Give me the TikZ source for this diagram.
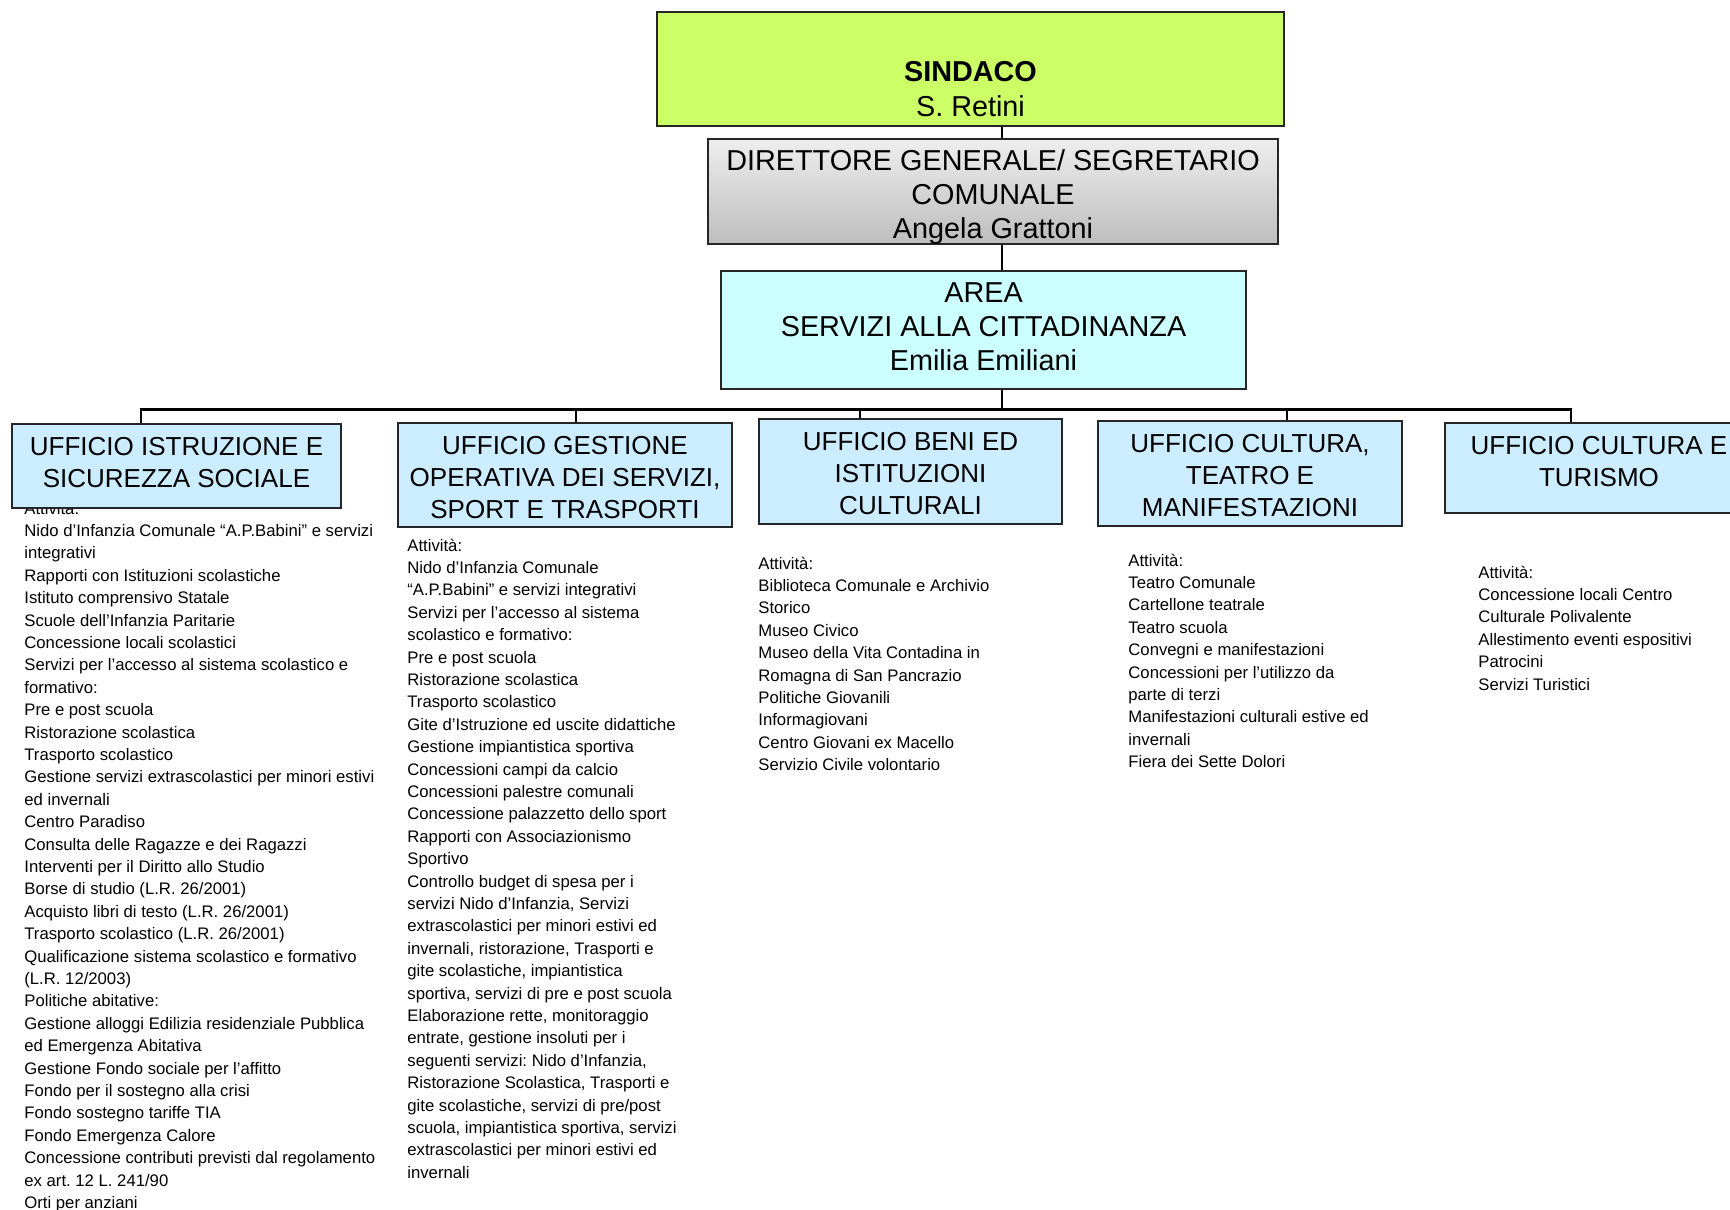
\documentclass[tikz,border=0pt]{standalone}
\usepackage{fontspec}
\setmainfont{Liberation Sans}
\frenchspacing
\definecolor{sindacofill}{HTML}{CCFF66}
\definecolor{areafill}{HTML}{CCFFFF}
\definecolor{officefill}{HTML}{CCECFF}
\definecolor{dirtop}{HTML}{EEEEEE}
\definecolor{dirbot}{HTML}{BDBDBD}
\newcommand{\acttext}{\fontsize{8.35}{11.2}\selectfont}
\newcommand{\offtext}{\fontsize{13}{16}\selectfont}
\newcommand{\toptext}{\fontsize{14.4}{17}\selectfont}
\begin{document}
\begin{tikzpicture}[x=0.5pt,y=-0.5pt,
  boxframe/.style={draw=black!85, line width=1pt, inner sep=0pt},
  office/.style={boxframe, fill=officefill},
  titletext/.style={anchor=base, inner sep=0pt},
  acttextnode/.style={anchor=base west, inner sep=0pt},
  trunkline/.style={draw=black, line width=0.8pt},
  busline/.style={draw=black, line width=1.3pt},
  dropline/.style={draw=black, line width=0.9pt}]
\useasboundingbox (0,0) rectangle (1730,1210);
\clip (0,0) rectangle (1730,1210);

% activity lists (drawn first: box 1 overlaps the top of its list)
\node[acttextnode] (act1) at (24,514) {\acttext\begin{tabular}[t]{@{}l@{}}
Attività:\\
Nido d’Infanzia Comunale “A.P.Babini” e servizi\\
integrativi\\
Rapporti con Istituzioni scolastiche\\
Istituto comprensivo Statale\\
Scuole dell’Infanzia Paritarie\\
Concessione locali scolastici\\
Servizi per l’accesso al sistema scolastico e\\
formativo:\\
Pre e post scuola\\
Ristorazione scolastica\\
Trasporto scolastico\\
Gestione servizi extrascolastici per minori estivi\\
ed invernali\\
Centro Paradiso\\
Consulta delle Ragazze e dei Ragazzi\\
Interventi per il Diritto allo Studio\\
Borse di studio (L.R. 26/2001)\\
Acquisto libri di testo (L.R. 26/2001)\\
Trasporto scolastico (L.R. 26/2001)\\
Qualificazione sistema scolastico e formativo\\
(L.R. 12/2003)\\
Politiche abitative:\\
Gestione alloggi Edilizia residenziale Pubblica\\
ed Emergenza Abitativa\\
Gestione Fondo sociale per l’affitto\\
Fondo per il sostegno alla crisi\\
Fondo sostegno tariffe TIA\\
Fondo Emergenza Calore\\
Concessione contributi previsti dal regolamento\\
ex art. 12 L. 241/90\\
Orti per anziani
\end{tabular}};

\node[acttextnode] (act2) at (407,551) {\acttext\begin{tabular}[t]{@{}l@{}}
Attività:\\
Nido d’Infanzia Comunale\\
“A.P.Babini” e servizi integrativi\\
Servizi per l’accesso al sistema\\
scolastico e formativo:\\
Pre e post scuola\\
Ristorazione scolastica\\
Trasporto scolastico\\
Gite d’Istruzione ed uscite didattiche\\
Gestione impiantistica sportiva\\
Concessioni campi da calcio\\
Concessioni palestre comunali\\
Concessione palazzetto dello sport\\
Rapporti con Associazionismo\\
Sportivo\\
Controllo budget di spesa per i\\
servizi Nido d’Infanzia, Servizi\\
extrascolastici per minori estivi ed\\
invernali, ristorazione, Trasporti e\\
gite scolastiche, impiantistica\\
sportiva, servizi di pre e post scuola\\
Elaborazione rette, monitoraggio\\
entrate, gestione insoluti per i\\
seguenti servizi: Nido d’Infanzia,\\
Ristorazione Scolastica, Trasporti e\\
gite scolastiche, servizi di pre/post\\
scuola, impiantistica sportiva, servizi\\
extrascolastici per minori estivi ed\\
invernali
\end{tabular}};

\node[acttextnode] (act3) at (758,569) {\acttext\begin{tabular}[t]{@{}l@{}}
Attività:\\
Biblioteca Comunale e Archivio\\
Storico\\
Museo Civico\\
Museo della Vita Contadina in\\
Romagna di San Pancrazio\\
Politiche Giovanili\\
Informagiovani\\
Centro Giovani ex Macello\\
Servizio Civile volontario
\end{tabular}};

\node[acttextnode] (act4) at (1128,566) {\acttext\begin{tabular}[t]{@{}l@{}}
Attività:\\
Teatro Comunale\\
Cartellone teatrale\\
Teatro scuola\\
Convegni e manifestazioni\\
Concessioni per l’utilizzo da\\
parte di terzi\\
Manifestazioni culturali estive ed\\
invernali\\
Fiera dei Sette Dolori
\end{tabular}};

\node[acttextnode] (act5) at (1478,578) {\acttext\begin{tabular}[t]{@{}l@{}}
Attività:\\
Concessione locali Centro\\
Culturale Polivalente\\
Allestimento eventi espositivi\\
Patrocini\\
Servizi Turistici
\end{tabular}};

% top boxes
\node[boxframe, fill=sindacofill, minimum width=313.5pt, minimum height=57pt] (sindaco) at (970.5,69) {};
\node[boxframe, top color=dirtop, bottom color=dirbot, minimum width=285pt, minimum height=52.5pt] (dir) at (993,191.5) {};
\node[boxframe, fill=areafill, minimum width=262.5pt, minimum height=59pt] (area) at (983.5,330) {};

\node[titletext] (sindacot) at (970.5,81) {\toptext\begin{tabular}[t]{@{}c@{}}\bfseries SINDACO\\[0.6pt] S. Retini\end{tabular}};
\node[titletext] (dirt) at (993,170) {\toptext\begin{tabular}[t]{@{}c@{}}DIRETTORE GENERALE/ SEGRETARIO\\ COMUNALE\\ Angela Grattoni\end{tabular}};
\node[titletext] (areat) at (983.5,302) {\toptext\begin{tabular}[t]{@{}c@{}}AREA\\ SERVIZI ALLA CITTADINANZA\\ Emilia Emiliani\end{tabular}};

% office boxes
\node[office, minimum width=164.5pt, minimum height=42pt] (b1) at (176.5,466) {};
\node[office, minimum width=167pt, minimum height=52pt] (b2) at (565,475) {};
\node[office, minimum width=151.5pt, minimum height=52.5pt] (b3) at (910.5,471.5) {};
\node[office, minimum width=152pt, minimum height=52.5pt] (b4) at (1250,473.5) {};
\node[office, minimum width=154pt, minimum height=45pt] (b5) at (1599,468) {};

\node[titletext] (b1t) at (176.5,455) {\offtext\begin{tabular}[t]{@{}c@{}}UFFICIO ISTRUZIONE E\\ SICUREZZA SOCIALE\end{tabular}};
\node[titletext] (b2t) at (565,454) {\offtext\begin{tabular}[t]{@{}c@{}}UFFICIO GESTIONE\\ OPERATIVA DEI SERVIZI,\\ SPORT E TRASPORTI\end{tabular}};
\node[titletext] (b3t) at (910.5,450) {\offtext\begin{tabular}[t]{@{}c@{}}UFFICIO BENI ED\\ ISTITUZIONI\\ CULTURALI\end{tabular}};
\node[titletext] (b4t) at (1250,452) {\offtext\begin{tabular}[t]{@{}c@{}}UFFICIO CULTURA,\\ TEATRO E\\ MANIFESTAZIONI\end{tabular}};
\node[titletext] (b5t) at (1599,454) {\offtext\begin{tabular}[t]{@{}c@{}}UFFICIO CULTURA E\\ TURISMO\end{tabular}};

% connectors
\coordinate (trunk) at (1002,409.5);
\coordinate (d1) at (141,409.5);
\coordinate (d2) at (576,409.5);
\coordinate (d3) at (860,409.5);
\coordinate (d4) at (1287,409.5);
\coordinate (d5) at (1571,409.5);
\draw[trunkline] (sindaco.south -| trunk) -- (dir.north -| trunk);
\draw[trunkline] (dir.south -| trunk) -- (area.north -| trunk);
\draw[trunkline] (area.south -| trunk) -- (trunk);
\draw[dropline] (d1) -- (d1 |- b1.north);
\draw[dropline] (d2) -- (d2 |- b2.north);
\draw[dropline] (d3) -- (d3 |- b3.north);
\draw[dropline] (d4) -- (d4 |- b4.north);
\draw[dropline] (d5) -- (d5 |- b5.north);
\draw[busline, line cap=rect] (d1) -- (d5);
\end{tikzpicture}
\end{document}
